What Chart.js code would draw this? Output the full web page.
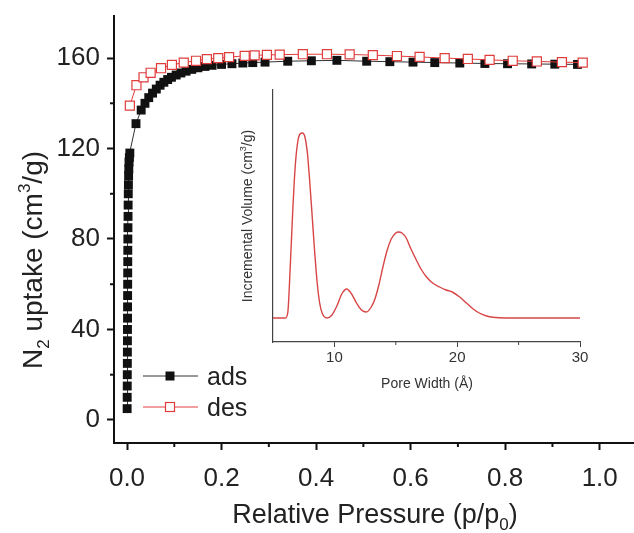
<html>
<head>
<script src="https://cdn.jsdelivr.net/npm/chart.js@4.4.0/dist/chart.umd.min.js"></script>
<style>
  body { margin: 0; background: #fff; overflow: hidden; width: 634px; height: 533px; position: relative; }
  #mainWrap { position: absolute; left: 0; top: 0; }
  #insetWrap { position: absolute; left: 225px; top: 80px; }
</style>
</head>
<body>
<div id="mainWrap"><canvas id="mainChart" width="700" height="533"></canvas></div>
<div id="insetWrap"><canvas id="insetChart" width="375" height="320"></canvas></div>
<script>
    // N2 isotherm, adsorption branch
    const adsX = [0.0003, 0.0004, 0.0005, 0.0006, 0.0007, 0.0008, 0.0009, 0.001, 0.0011, 0.0012, 0.0013, 0.0014, 0.0015,
        0.0016, 0.0017, 0.0018, 0.002, 0.0022, 0.0024, 0.0027, 0.003, 0.0034, 0.0038, 0.0043, 0.005, 0.006,
        0.019, 0.03, 0.038, 0.046, 0.054, 0.062, 0.07, 0.078, 0.086, 0.094, 0.104, 0.114, 0.125, 0.137, 0.15,
        0.165, 0.18, 0.2, 0.222, 0.245, 0.266, 0.292, 0.34, 0.39, 0.444, 0.507, 0.556, 0.605, 0.651, 0.704,
        0.757, 0.805, 0.856, 0.905, 0.953];
    const adsY = [5, 10, 15, 20, 25, 30, 35, 40, 45, 50, 55, 60, 65,
        70, 75, 80, 85, 90, 95, 100, 104, 108, 111, 114, 116, 118,
        131, 137, 140, 142.5, 144.5, 146.3, 148, 149.3, 150.5, 151.5, 152.5, 153.4, 154.2, 155, 155.7,
        156.3, 156.8, 157.2, 157.5, 157.8, 158, 158.2, 158.6, 158.8, 159, 158.6, 158.4, 158.2, 158, 157.8,
        157.6, 157.5, 157.4, 157.3, 157.2];

    // desorption branch
    const desX = [0.006, 0.02, 0.035, 0.05, 0.072, 0.095, 0.12, 0.146, 0.169, 0.193, 0.216, 0.249, 0.27, 0.296,
        0.323, 0.372, 0.423, 0.471, 0.52, 0.571, 0.619, 0.672, 0.721, 0.767, 0.816, 0.867, 0.92, 0.964];
    const desY = [139, 148, 151.5, 153.5, 155.5, 157, 158, 158.8, 159.5, 160, 160.4, 161, 161.2, 161.4,
        161.5, 161.7, 161.7, 161.6, 161.3, 160.9, 160.5, 160, 159.6, 159.2, 158.8, 158.5, 158.2, 158];

    // pore size distribution (inset)
    const poreX = [5, 6.0, 6.2, 6.4, 6.6, 6.8, 7.0, 7.2, 7.4, 7.6, 7.8, 8.0, 8.2, 8.4, 8.6, 8.8, 9.0, 9.4,
        9.8, 10.2, 10.6, 11.0, 11.4, 11.8, 12.2, 12.6, 13.0, 13.3, 13.6, 13.95, 14.3, 14.63, 15.0, 15.2, 15.5,
        15.85, 16.2, 16.67, 17.1, 17.5, 18.0, 18.57, 19.1, 19.6, 20.2, 20.75, 21.3, 21.8, 22.4, 22.9, 24, 30];
    const poreY = [0, 0, 0.005, 0.05, 0.105, 0.15, 0.175, 0.184, 0.185, 0.181, 0.165, 0.135, 0.1, 0.065, 0.035, 0.015, 0.005, 0,
        0.003, 0.012, 0.024, 0.029, 0.024, 0.015, 0.008, 0.006, 0.011, 0.019, 0.032, 0.051, 0.068, 0.079, 0.085, 0.086, 0.085,
        0.08, 0.07, 0.058, 0.048, 0.041, 0.035, 0.031, 0.028, 0.026, 0.021, 0.015, 0.009, 0.005, 0.002, 0.0007, 0, 0];

    const xMinorMain = [0.1, 0.3, 0.5, 0.7, 0.9];
    const yMinorMain = [20, 60, 100, 140];
    const xMinorInset = [15, 25];

    const FONT = "'Liberation Sans', Arial, sans-serif";
    const RED = '#e03c3c';

    function drawRich(ctx, parts, x, y, size, rot, color) {
        ctx.save();
        ctx.translate(x, y);
        ctx.rotate(rot);
        ctx.fillStyle = color;
        ctx.textBaseline = 'alphabetic';
        ctx.textAlign = 'left';
        const fontOf = p => (p.sub || p.sup ? Math.round(size * 0.62) : size) + 'px ' + FONT;
        let w = 0;
        parts.forEach(p => { ctx.font = fontOf(p); w += ctx.measureText(p.t).width; });
        let cx = -w / 2;
        parts.forEach(p => {
            ctx.font = fontOf(p);
            const dy = p.sub ? size * 0.25 : (p.sup ? -size * 0.42 : 0);
            ctx.fillText(p.t, cx, dy);
            cx += ctx.measureText(p.t).width;
        });
        ctx.restore();
    }

    // keep the plot box exactly where the figure has it
    function noPad(s) {
        s.paddingTop = 0; s.paddingBottom = 0; s.paddingLeft = 0; s.paddingRight = 0;
    }

    const mainDecor = {
        id: 'mainDecor',
        afterDraw(chart) {
            const ctx = chart.ctx;
            const xs = chart.scales.x, ys = chart.scales.y;
            ctx.save();
            ctx.strokeStyle = '#111';
            ctx.lineWidth = 2;
            xMinorMain.forEach(v => {
                const px = xs.getPixelForValue(v);
                ctx.beginPath(); ctx.moveTo(px, ys.bottom); ctx.lineTo(px, ys.bottom + 4); ctx.stroke();
            });
            yMinorMain.forEach(v => {
                const py = ys.getPixelForValue(v);
                ctx.beginPath(); ctx.moveTo(xs.left, py); ctx.lineTo(xs.left - 4, py); ctx.stroke();
            });

            // legend
            ctx.lineWidth = 1;
            ctx.strokeStyle = '#333';
            ctx.beginPath(); ctx.moveTo(143, 376); ctx.lineTo(198, 376); ctx.stroke();
            ctx.fillStyle = '#111';
            ctx.fillRect(165.5, 371.5, 9, 9);
            ctx.strokeStyle = RED;
            ctx.beginPath(); ctx.moveTo(143, 407); ctx.lineTo(198, 407); ctx.stroke();
            ctx.fillStyle = '#fff';
            ctx.fillRect(165.5, 402.5, 9, 9);
            ctx.lineWidth = 1.2;
            ctx.strokeRect(165.5, 402.5, 9, 9);
            ctx.fillStyle = '#222';
            ctx.font = '25px ' + FONT;
            ctx.textBaseline = 'alphabetic';
            ctx.fillText('ads', 207, 385);
            ctx.fillText('des', 207, 416);
            ctx.restore();

            drawRich(ctx, [{ t: 'N' }, { t: '2', sub: true }, { t: ' uptake (cm' }, { t: '3', sup: true }, { t: '/g)' }],
                42, 260, 28, -Math.PI / 2, '#222');
            drawRich(ctx, [{ t: 'Relative Pressure (p/p' }, { t: '0', sub: true }, { t: ')' }],
                375, 523, 27, 0, '#222');
        }
    };

    new Chart(document.getElementById('mainChart'), {
        type: 'scatter',
        data: {
            datasets: [{
                label: 'des',
                data: desX.map((x, i) => ({ x: x, y: desY[i] })),
                showLine: true,
                borderColor: RED,
                borderWidth: 1,
                pointStyle: 'rect',
                pointRadius: 6.4,
                pointBackgroundColor: '#fff',
                pointBorderColor: RED,
                pointBorderWidth: 1.2,
                order: 0
            }, {
                label: 'ads',
                data: adsX.map((x, i) => ({ x: x, y: adsY[i] })),
                showLine: true,
                borderColor: '#333',
                borderWidth: 1,
                pointStyle: 'rect',
                pointRadius: 6.3,
                pointBackgroundColor: '#111',
                pointBorderColor: '#111',
                pointBorderWidth: 0,
                order: 1
            }]
        },
        options: {
            responsive: false,
            animation: false,
            layout: { padding: { top: 16, right: 53, left: 0, bottom: 0 } },
            plugins: { legend: { display: false }, tooltip: { enabled: false } },
            scales: {
                x: {
                    type: 'linear',
                    min: -0.0275,
                    max: 1.1,
                    afterFit(s) { s.height = 90; noPad(s); },
                    ticks: {
                        stepSize: 0.2, includeBounds: false, autoSkip: false, maxRotation: 0,
                        callback: v => v.toFixed(1),
                        font: { family: FONT, size: 26 }, color: '#222', padding: 13
                    },
                    grid: { drawOnChartArea: false, tickLength: 7, tickWidth: 2, tickColor: '#111' },
                    border: { color: '#111', width: 2 }
                },
                y: {
                    min: -10.2,
                    max: 178.6,
                    afterFit(s) { s.width = 114; noPad(s); },
                    ticks: {
                        stepSize: 40, includeBounds: false,
                        font: { family: FONT, size: 26 }, color: '#222', padding: 7
                    },
                    grid: { drawOnChartArea: false, tickLength: 7, tickWidth: 2, tickColor: '#111' },
                    border: { color: '#111', width: 2 }
                }
            }
        },
        plugins: [mainDecor]
    });

    const insetDecor = {
        id: 'insetDecor',
        afterDraw(chart) {
            const ctx = chart.ctx;
            const xs = chart.scales.x;
            ctx.save();
            ctx.strokeStyle = '#444';
            ctx.lineWidth = 1;
            xMinorInset.forEach(v => {
                const px = xs.getPixelForValue(v);
                ctx.beginPath(); ctx.moveTo(px, xs.top); ctx.lineTo(px, xs.top + 3); ctx.stroke();
            });
            ctx.restore();
            drawRich(ctx, [{ t: 'Incremental Volume (cm' }, { t: '3', sup: true }, { t: '/g)' }],
                27, 136, 14, -Math.PI / 2, '#333');
            drawRich(ctx, [{ t: 'Pore Width (\u00c5)' }], 202, 308, 14, 0, '#333');
        }
    };

    new Chart(document.getElementById('insetChart'), {
        type: 'scatter',
        data: {
            datasets: [{
                label: 'PSD',
                data: poreX.map((x, i) => ({ x: x, y: poreY[i] })),
                showLine: true,
                borderColor: '#d84545',
                borderWidth: 1.4,
                pointRadius: 0,
                cubicInterpolationMode: 'monotone'
            }]
        },
        options: {
            responsive: false,
            animation: false,
            layout: { padding: { top: 10, right: 20, left: 0, bottom: 0 } },
            plugins: { legend: { display: false }, tooltip: { enabled: false } },
            scales: {
                x: {
                    type: 'linear',
                    min: 5,
                    max: 30,
                    afterFit(s) { s.height = 58; noPad(s); },
                    ticks: {
                        stepSize: 10, includeBounds: false, autoSkip: false, maxRotation: 0,
                        font: { family: FONT, size: 15 }, color: '#333', padding: 2
                    },
                    grid: { drawOnChartArea: false, tickLength: 5, tickWidth: 1, tickColor: '#444' },
                    border: { color: '#444', width: 1.2 }
                },
                y: {
                    min: -0.024,
                    max: 0.228,
                    afterFit(s) { s.width = 48; noPad(s); },
                    ticks: { display: false },
                    grid: { display: false },
                    border: { color: '#444', width: 1.2 }
                }
            }
        },
        plugins: [insetDecor]
    });
</script>
</body>
</html>
